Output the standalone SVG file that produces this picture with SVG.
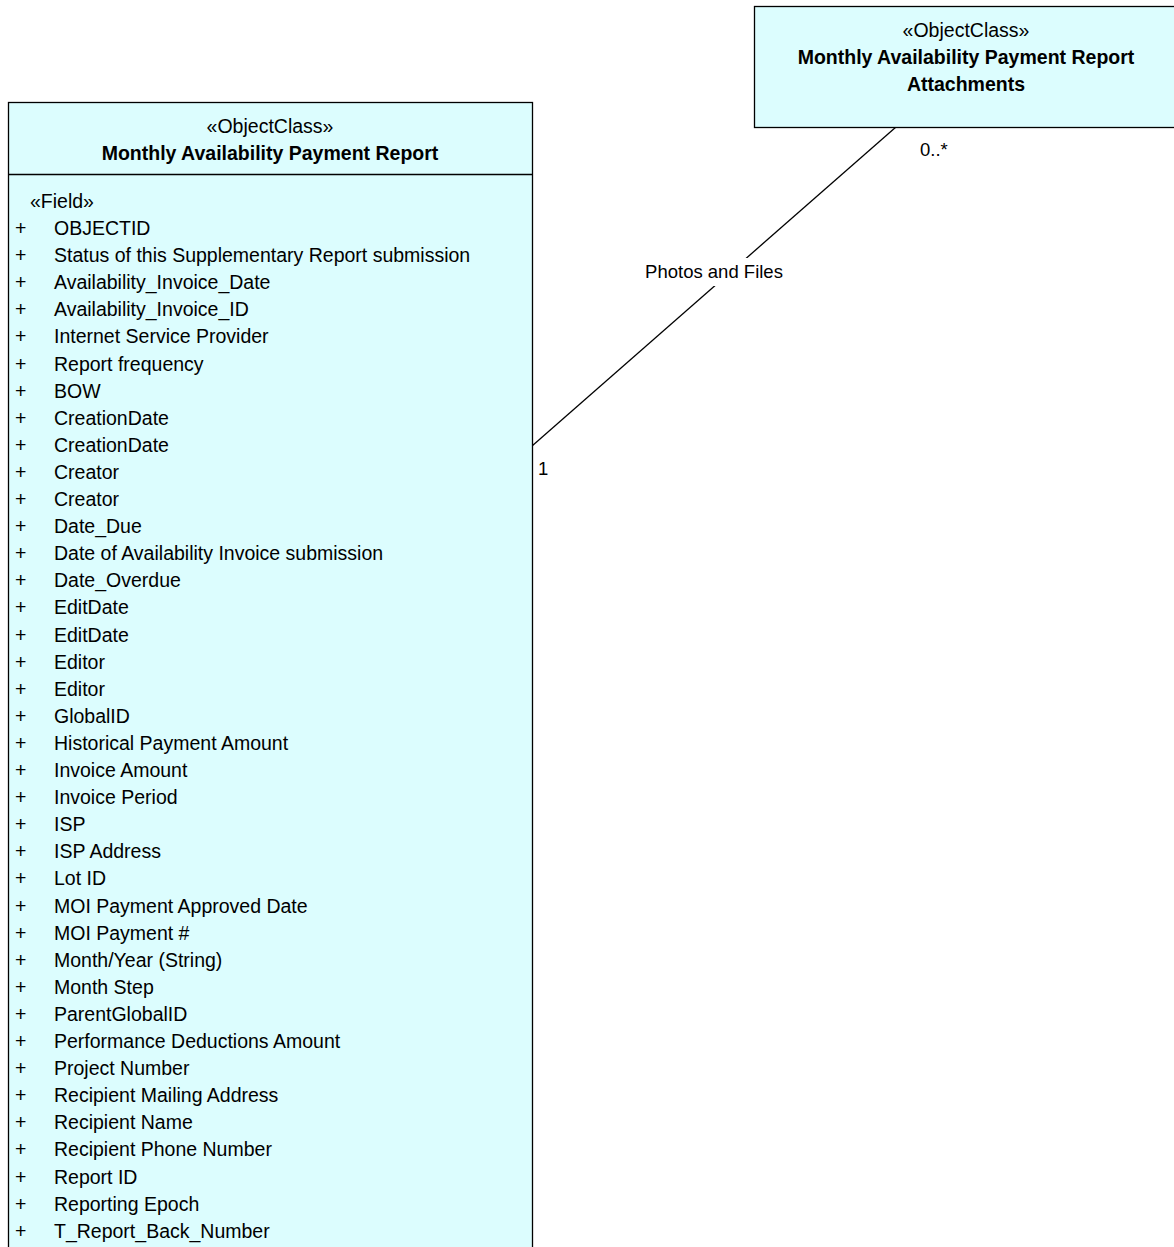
<svg xmlns="http://www.w3.org/2000/svg" width="1174" height="1247" viewBox="0 0 1174 1247">
<style>
text{font-family:"Liberation Sans",Arial,sans-serif;font-size:19.5px;fill:#000}
.b{font-weight:bold}
.c{text-anchor:middle}
.s{font-size:18.5px}
.box{fill:#dcfdfe;stroke:#000;stroke-width:1.3}
.ln{stroke:#000;stroke-width:1.3;fill:none}
</style>
<rect width="1174" height="1247" fill="#fff"/>
<g id="connectors">
<line class="ln" x1="532" y1="446" x2="896" y2="127"/>
<rect x="640" y="258" width="150" height="28" fill="#fff"/>
<text class="c s" x="714" y="278">Photos and Files</text>
<text class="s" x="920" y="156">0..*</text>
<text class="s" x="538" y="475">1</text>
</g>
<g id="attachments">
<rect class="box" x="754.5" y="6.5" width="425" height="121"/>
<text class="c" x="966" y="37">«ObjectClass»</text>
<text class="c b" x="966" y="64">Monthly Availability Payment Report</text>
<text class="c b" x="966" y="91">Attachments</text>
</g>
<g id="report">
<rect class="box" x="8.5" y="102.5" width="524" height="1160"/>
<line class="ln" x1="8.5" y1="174.5" x2="532.5" y2="174.5"/>
<text class="c" x="270" y="133">«ObjectClass»</text>
<text class="c b" x="270" y="160">Monthly Availability Payment Report</text>
<text x="30" y="208">«Field»</text>
<g id="fields">
<text x="15" y="235">+</text><text x="54" y="235">OBJECTID</text>
<text x="15" y="262.1">+</text><text x="54" y="262.1">Status of this Supplementary Report submission</text>
<text x="15" y="289.2">+</text><text x="54" y="289.2">Availability_Invoice_Date</text>
<text x="15" y="316.3">+</text><text x="54" y="316.3">Availability_Invoice_ID</text>
<text x="15" y="343.4">+</text><text x="54" y="343.4">Internet Service Provider</text>
<text x="15" y="370.5">+</text><text x="54" y="370.5">Report frequency</text>
<text x="15" y="397.6">+</text><text x="54" y="397.6">BOW</text>
<text x="15" y="424.7">+</text><text x="54" y="424.7">CreationDate</text>
<text x="15" y="451.8">+</text><text x="54" y="451.8">CreationDate</text>
<text x="15" y="478.9">+</text><text x="54" y="478.9">Creator</text>
<text x="15" y="506">+</text><text x="54" y="506">Creator</text>
<text x="15" y="533.1">+</text><text x="54" y="533.1">Date_Due</text>
<text x="15" y="560.2">+</text><text x="54" y="560.2">Date of Availability Invoice submission</text>
<text x="15" y="587.3">+</text><text x="54" y="587.3">Date_Overdue</text>
<text x="15" y="614.4">+</text><text x="54" y="614.4">EditDate</text>
<text x="15" y="641.5">+</text><text x="54" y="641.5">EditDate</text>
<text x="15" y="668.6">+</text><text x="54" y="668.6">Editor</text>
<text x="15" y="695.7">+</text><text x="54" y="695.7">Editor</text>
<text x="15" y="722.8">+</text><text x="54" y="722.8">GlobalID</text>
<text x="15" y="749.9">+</text><text x="54" y="749.9">Historical Payment Amount</text>
<text x="15" y="777">+</text><text x="54" y="777">Invoice Amount</text>
<text x="15" y="804.1">+</text><text x="54" y="804.1">Invoice Period</text>
<text x="15" y="831.2">+</text><text x="54" y="831.2">ISP</text>
<text x="15" y="858.3">+</text><text x="54" y="858.3">ISP Address</text>
<text x="15" y="885.4">+</text><text x="54" y="885.4">Lot ID</text>
<text x="15" y="912.5">+</text><text x="54" y="912.5">MOI Payment Approved Date</text>
<text x="15" y="939.6">+</text><text x="54" y="939.6">MOI Payment #</text>
<text x="15" y="966.7">+</text><text x="54" y="966.7">Month/Year (String)</text>
<text x="15" y="993.8">+</text><text x="54" y="993.8">Month Step</text>
<text x="15" y="1020.9">+</text><text x="54" y="1020.9">ParentGlobalID</text>
<text x="15" y="1048">+</text><text x="54" y="1048">Performance Deductions Amount</text>
<text x="15" y="1075.1">+</text><text x="54" y="1075.1">Project Number</text>
<text x="15" y="1102.2">+</text><text x="54" y="1102.2">Recipient Mailing Address</text>
<text x="15" y="1129.3">+</text><text x="54" y="1129.3">Recipient Name</text>
<text x="15" y="1156.4">+</text><text x="54" y="1156.4">Recipient Phone Number</text>
<text x="15" y="1183.5">+</text><text x="54" y="1183.5">Report ID</text>
<text x="15" y="1210.6">+</text><text x="54" y="1210.6">Reporting Epoch</text>
<text x="15" y="1237.7">+</text><text x="54" y="1237.7">T_Report_Back_Number</text>
</g>
</g>
</svg>
